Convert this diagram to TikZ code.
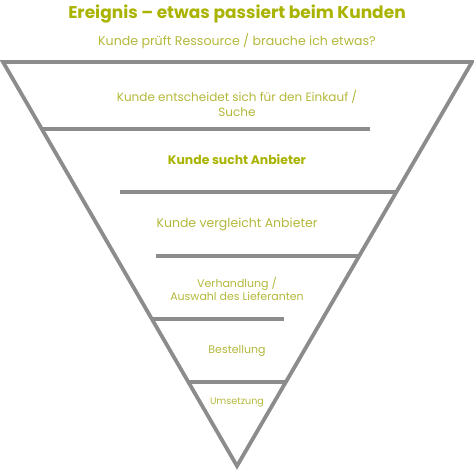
\documentclass[tikz,border=0pt]{standalone}
\usepackage{fontspec}
\setmainfont{Poppins}
\definecolor{olive}{HTML}{A9B300}
\definecolor{lightolive}{HTML}{B3B83A}
\definecolor{funnelgray}{HTML}{8C8C8C}

\begin{document}
\begin{tikzpicture}
        [x=1pt, y=-1pt,
        every node/.style={align=center, inner sep=0pt},
        titletext/.style={font=\bfseries\fontsize{17}{20}\selectfont, text=olive},
        subtext/.style={font=\fontsize{12.6}{15}\selectfont, text=lightolive},
        steptext/.style={font=\fontsize{12}{15}\selectfont, text=lightolive},
        smalltext/.style={font=\fontsize{11}{13.5}\selectfont, text=lightolive},
        tinytext/.style={font=\fontsize{9.6}{11}\selectfont, text=lightolive},
        funnel/.style={draw=funnelgray, line width=3.8pt}]

    \useasboundingbox (0,0) rectangle (474,474);

    % funnel outline
    \draw[funnel] (3,62) -- (472,62) -- (237,466) -- cycle;

    % divider lines
    \draw[funnel, line width=3.5pt] (42,129) -- (370,129);
    \draw[funnel, line width=3.5pt] (120,192) -- (396,192);
    \draw[funnel, line width=3.5pt] (156,256) -- (359,256);
    \draw[funnel, line width=3.5pt] (152,319) -- (284,319);
    \draw[funnel, line width=3.5pt] (188,382) -- (286,382);

    % texts
    \node[titletext] (event) at (237,14) {Ereignis -- etwas passiert beim Kunden};
    \node[subtext] (check) at (237,41) {Kunde prüft Ressource / brauche ich etwas?};
    \node[steptext] (decide) at (237,103) {Kunde entscheidet sich für den Einkauf /\\Suche};
    \node[steptext, font=\bfseries\fontsize{12.4}{15}\selectfont, text=olive] (search) at (237,160) {Kunde sucht Anbieter};
    \node[steptext, font=\fontsize{12.5}{15}\selectfont] (compare) at (237,224) {Kunde vergleicht Anbieter};
    \node[smalltext] (negotiate) at (237,289) {Verhandlung /\\Auswahl des Lieferanten};
    \node[smalltext] (order) at (237,351) {Bestellung};
    \node[tinytext] (execute) at (237,402) {Umsetzung};
    \end{tikzpicture}
\end{document}
